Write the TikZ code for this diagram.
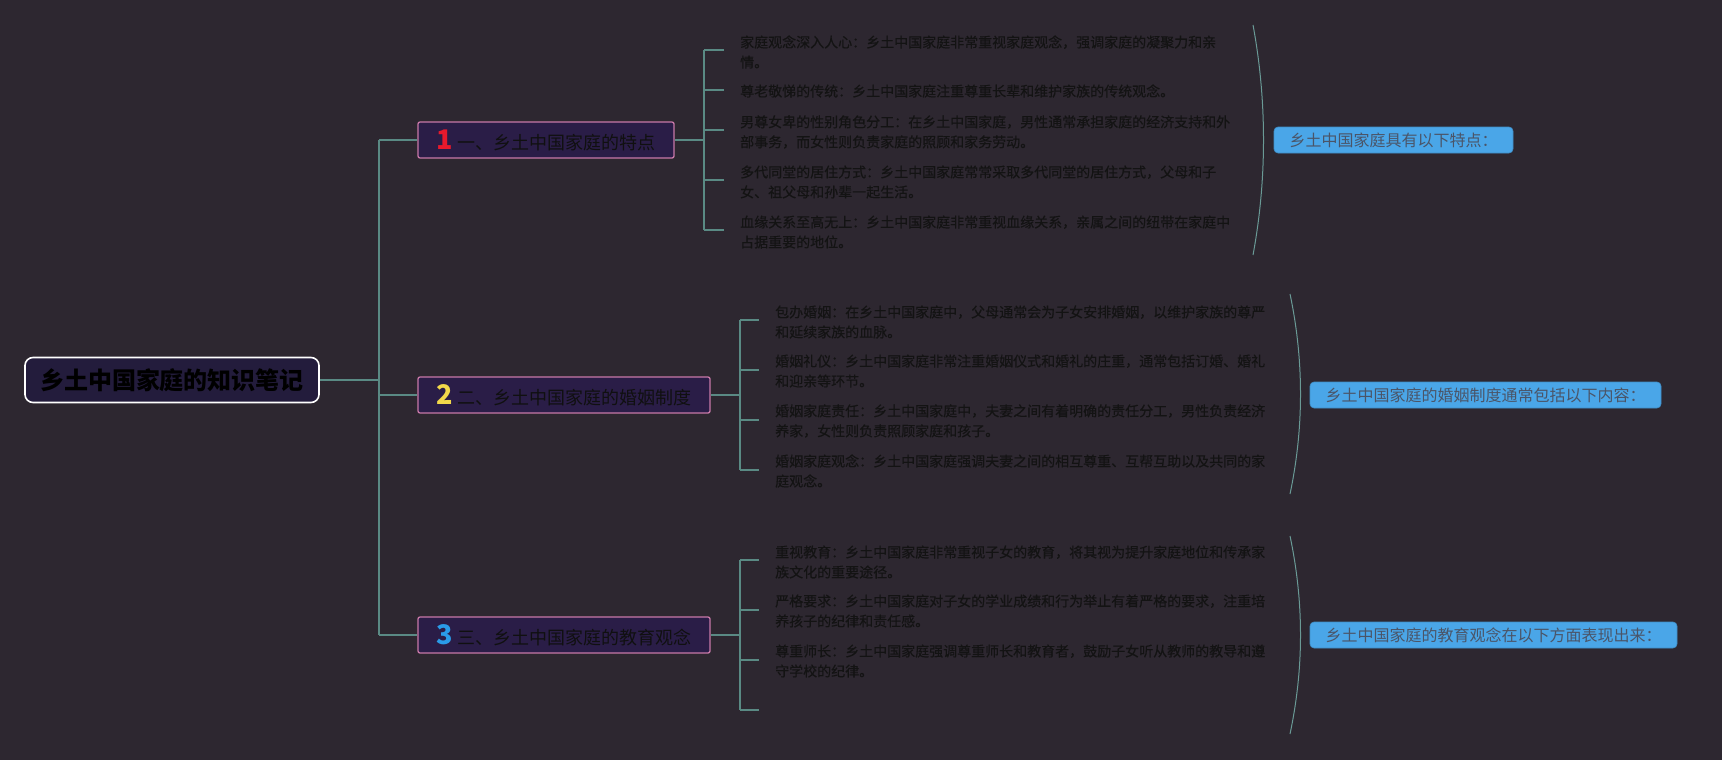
\documentclass[tikz,border=0pt]{standalone}
\usepackage{fontspec}
\setmainfont{Noto Sans CJK SC}
\newfontfamily\itemfont[FakeBold=0.3]{Noto Sans CJK SC}
\definecolor{bgc}{HTML}{2D2730}
\definecolor{rootf}{HTML}{231C3C}
\definecolor{branchf}{HTML}{2A1D47}
\definecolor{pinkb}{HTML}{C878A8}
\definecolor{connc}{HTML}{5A8A84}
\definecolor{bracec}{HTML}{6A9A96}
\definecolor{itemc}{HTML}{131313}
\definecolor{txtdark}{HTML}{101010}
\definecolor{blueb}{HTML}{4AA6E8}
\definecolor{summc}{HTML}{4A5568}
\definecolor{numred}{HTML}{E8192C}
\definecolor{numyel}{HTML}{F2D84A}
\definecolor{numblue}{HTML}{2A9BE8}
\begin{document}
\begin{tikzpicture}[x=1pt,y=-1pt,
  conn/.style={draw=connc, line width=1.3pt},
  rootbox/.style={draw=white, line width=1.6pt, fill=rootf, rounded corners=8pt, minimum width=294pt, minimum height=45pt, inner sep=0pt, font=\fontsize{24}{28}\selectfont\bfseries, text=black},
  branchbox/.style={draw=pinkb, line width=1.3pt, fill=branchf, rounded corners=2pt, minimum height=36pt, inner sep=0pt, font=\fontsize{18}{22}\selectfont, text=txtdark},
  itemtext/.style={anchor=west, align=left, inner sep=0pt, font=\itemfont\fontsize{14}{20}\selectfont, text=itemc},
  summ/.style={fill=blueb, draw=blueb!85!black, line width=0.6pt, rounded corners=4pt, minimum height=26pt, inner sep=0pt, font=\fontsize{16}{18}\selectfont, text=summc},
  bracecurve/.style={draw=bracec, line width=1pt}
]
\fill[bgc] (0,0) rectangle (1722,760);
\useasboundingbox (0,0) rectangle (1722,760);

% root
\node[rootbox] (root) at (172,380) {乡土中国家庭的知识笔记};
\coordinate (trunk) at (379,380);

% branches
\node[branchbox, minimum width=256pt] (b1) at (546,140) {{\fontsize{27}{27}\selectfont\bfseries\color{numred}1}\hspace{4pt}一、乡土中国家庭的特点};
\node[branchbox, minimum width=292pt] (b2) at (564,395) {{\fontsize{27}{27}\selectfont\bfseries\color{numyel}2}\hspace{4pt}二、乡土中国家庭的婚姻制度};
\node[branchbox, minimum width=292pt] (b3) at (564,635) {{\fontsize{27}{27}\selectfont\bfseries\color{numblue}3}\hspace{4pt}三、乡土中国家庭的教育观念};

\draw[conn] (root.east) -- (trunk);
\draw[conn] (trunk |- b1.west) -- (trunk |- b3.west);
\draw[conn] (trunk |- b1.west) -- (b1.west);
\draw[conn] (trunk |- b2.west) -- (b2.west);
\draw[conn] (trunk |- b3.west) -- (b3.west);

% branch 1 items
\coordinate (j1) at (704,140);
\draw[conn] (b1.east) -- (j1);
\node[itemtext] (i11) at (740,52) {家庭观念深入人心：乡土中国家庭非常重视家庭观念，强调家庭的凝聚力和亲\\情。};
\node[itemtext] (i12) at (740,91) {尊老敬悌的传统：乡土中国家庭注重尊重长辈和维护家族的传统观念。};
\node[itemtext] (i13) at (740,132) {男尊女卑的性别角色分工：在乡土中国家庭，男性通常承担家庭的经济支持和外\\部事务，而女性则负责家庭的照顾和家务劳动。};
\node[itemtext] (i14) at (740,182) {多代同堂的居住方式：乡土中国家庭常常采取多代同堂的居住方式，父母和子\\女、祖父母和孙辈一起生活。};
\node[itemtext] (i15) at (740,232) {血缘关系至高无上：乡土中国家庭非常重视血缘关系，亲属之间的纽带在家庭中\\占据重要的地位。};
\draw[conn] (j1 |- 0,50) -- (j1 |- 0,230);
\draw[conn] (j1 |- 0,50) -- ([xshift=-16pt]i11.west |- 0,50);
\draw[conn] (j1 |- 0,90) -- ([xshift=-16pt]i12.west |- 0,90);
\draw[conn] (j1 |- 0,130) -- ([xshift=-16pt]i13.west |- 0,130);
\draw[conn] (j1 |- 0,180) -- ([xshift=-16pt]i14.west |- 0,180);
\draw[conn] (j1 |- 0,230) -- ([xshift=-16pt]i15.west |- 0,230);

% branch 2 items
\coordinate (j2) at (740,395);
\draw[conn] (b2.east) -- (j2);
\node[itemtext] (i21) at (775,322) {包办婚姻：在乡土中国家庭中，父母通常会为子女安排婚姻，以维护家族的尊严\\和延续家族的血脉。};
\node[itemtext] (i22) at (775,371) {婚姻礼仪：乡土中国家庭非常注重婚姻仪式和婚礼的庄重，通常包括订婚、婚礼\\和迎亲等环节。};
\node[itemtext] (i23) at (775,421) {婚姻家庭责任：乡土中国家庭中，夫妻之间有着明确的责任分工，男性负责经济\\养家，女性则负责照顾家庭和孩子。};
\node[itemtext] (i24) at (775,471) {婚姻家庭观念：乡土中国家庭强调夫妻之间的相互尊重、互帮互助以及共同的家\\庭观念。};
\draw[conn] (j2 |- 0,320) -- (j2 |- 0,470);
\draw[conn] (j2 |- 0,320) -- ([xshift=-16pt]i21.west |- 0,320);
\draw[conn] (j2 |- 0,370) -- ([xshift=-16pt]i22.west |- 0,370);
\draw[conn] (j2 |- 0,420) -- ([xshift=-16pt]i23.west |- 0,420);
\draw[conn] (j2 |- 0,470) -- ([xshift=-16pt]i24.west |- 0,470);

% branch 3 items
\coordinate (j3) at (740,635);
\draw[conn] (b3.east) -- (j3);
\node[itemtext] (i31) at (775,562) {重视教育：乡土中国家庭非常重视子女的教育，将其视为提升家庭地位和传承家\\族文化的重要途径。};
\node[itemtext] (i32) at (775,611) {严格要求：乡土中国家庭对子女的学业成绩和行为举止有着严格的要求，注重培\\养孩子的纪律和责任感。};
\node[itemtext] (i33) at (775,661) {尊重师长：乡土中国家庭强调尊重师长和教育者，鼓励子女听从教师的教导和遵\\守学校的纪律。};
\coordinate (i34) at (759,710);
\draw[conn] (j3 |- 0,560) -- (j3 |- 0,710);
\draw[conn] (j3 |- 0,560) -- ([xshift=-16pt]i31.west |- 0,560);
\draw[conn] (j3 |- 0,610) -- ([xshift=-16pt]i32.west |- 0,610);
\draw[conn] (j3 |- 0,660) -- ([xshift=-16pt]i33.west |- 0,660);
\draw[conn] (j3 |- 0,710) -- (i34);

% braces
\draw[bracecurve] (1253,25) .. controls (1267,100) and (1267,180) .. (1253,255);
\draw[bracecurve] (1290,294) .. controls (1304,360) and (1304,428) .. (1290,494);
\draw[bracecurve] (1290,536) .. controls (1304,602) and (1304,668) .. (1290,734);

% summaries
\node[summ, minimum width=239pt] (s1) at (1393.5,140) {乡土中国家庭具有以下特点：};
\node[summ, minimum width=351pt] (s2) at (1485.5,395) {乡土中国家庭的婚姻制度通常包括以下内容：};
\node[summ, minimum width=367pt] (s3) at (1493.5,635) {乡土中国家庭的教育观念在以下方面表现出来：};
\end{tikzpicture}
\end{document}
